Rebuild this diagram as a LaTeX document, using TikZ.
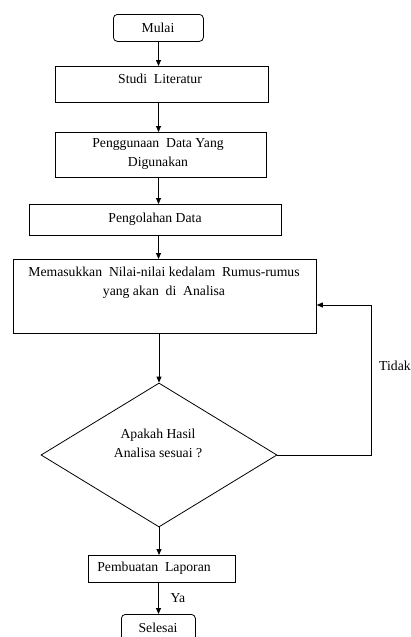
\documentclass[tikz,border=0pt]{standalone}
\usepackage{fontspec}
\setmainfont{Liberation Serif}
\usetikzlibrary{shapes.geometric,arrows.meta}
\begin{document}
\begin{tikzpicture}[x=1pt,y=-1pt,
  box/.style={draw, line width=0.8pt, inner sep=0pt, anchor=north west},
  rbox/.style={box, rounded corners=4pt},
  txt/.style={align=center, inner sep=0pt, font=\fontsize{13.7}{19}\selectfont},
  arr/.style={draw, line width=0.8pt, -{Triangle[length=6pt,width=5pt]}}]
\clip (0,0) rectangle (410,637);
\fill[white] (0,0) rectangle (410,637);
\coordinate (axis) at (158.5,0);
% boxes
\node[rbox, minimum width=90pt, minimum height=27pt] (mulai) at (113,14) {};
\node[box, minimum width=213pt, minimum height=36pt] (studi) at (55,66) {};
\node[box, minimum width=211pt, minimum height=45pt] (guna) at (55,132) {};
\node[box, minimum width=252pt, minimum height=31pt] (olah) at (29,204) {};
\node[box, minimum width=303pt, minimum height=74pt] (masuk) at (13,259) {};
\node[draw, line width=0.8pt, diamond, inner sep=0pt, minimum width=236pt, minimum height=144pt] (dia) at (159,455) {};
\node[box, minimum width=147pt, minimum height=27pt] (lapor) at (88,555) {};
\node[rbox, minimum width=74pt, minimum height=30pt] (selesai) at (121,614) {};
% texts
\node[txt] (tmulai) at (158,28) {Mulai};
\node[txt] (tstudi) at (160,79) {Studi\ \ Literatur};
\node[txt] (tguna) at (158,154) {Penggunaan\ \ Data Yang\\Digunakan};
\node[txt] (tolah) at (155,219) {Pengolahan Data};
\node[txt] (tmasuk) at (164,283) {Memasukkan\ \ Nilai-nilai kedalam\ \ Rumus-rumus\\yang akan\ \ di\ \ Analisa};
\node[txt] (tdia) at (158,443) {Apakah Hasil\\Analisa sesuai ?};
\node[txt] (tlapor) at (154,568) {Pembuatan\ \ Laporan};
\node[txt] (tselesai) at (158,628) {Selesai};
\node[txt, anchor=west] (tidak) at (379,366) {Tidak};
\node[txt] (ya) at (178,598) {Ya};
% connectors
\draw[arr] (mulai.south -| axis) -- (studi.north -| axis);
\draw[arr] (studi.south -| axis) -- (guna.north -| axis);
\draw[arr] (guna.south -| axis) -- (olah.north -| axis);
\draw[arr] (olah.south -| axis) -- (masuk.north -| axis);
\draw[arr] (masuk.south -| dia.north) -- (dia.north);
\coordinate (loop) at (371,305);
\draw[arr] (dia.east) -| (loop) -- (masuk.east |- loop);
\draw[arr] (dia.south) -- (lapor.north -| dia.south);
\draw[arr] (lapor.south -| axis) -- (selesai.north -| axis);
\end{tikzpicture}
\end{document}
